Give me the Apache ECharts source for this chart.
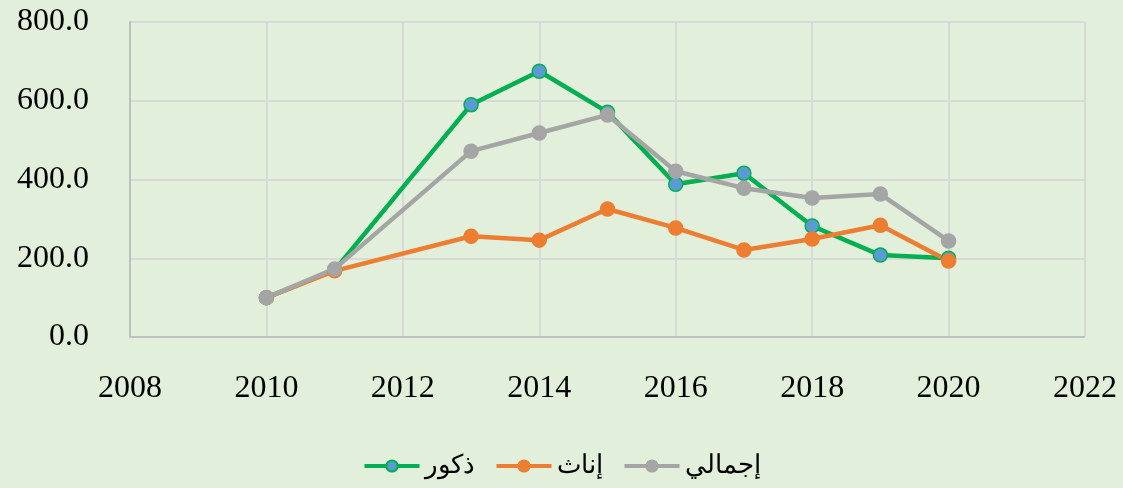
<!DOCTYPE html>
<html><head><meta charset="utf-8">
<script src="https://cdn.jsdelivr.net/npm/echarts@6/dist/echarts.min.js"></script>
<style>html,body{margin:0;padding:0;background:#E2EFDA;}#c{width:1123px;height:488px;}</style>
</head><body><div id="c"></div>
<script>
var years = [2010, 2011, 2013, 2014, 2015, 2016, 2017, 2018, 2019, 2020];
var males = [100, 170, 590, 675, 571, 388, 416, 282, 208, 200];
var females = [100, 168, 256, 246, 325, 277, 221, 249, 284, 193];
var total = [100, 173, 472, 518, 564, 421, 378, 353, 363, 244];
var seriesNames = ['ذكور', 'إناث', 'إجمالي'];
var xTicks = {min: 2008, max: 2022, interval: 2};
var yTicks = {min: 0, max: 800, interval: 200};

function pairs(v){ return years.map(function(y,i){ return [y, v[i]]; }); }
var font = '"Liberation Serif","Times New Roman",serif';
var chart = echarts.init(document.getElementById('c'));
function mk(name, data, color, fill){
  return {
    name: name, type: 'line', data: pairs(data),
    symbol: 'circle', symbolSize: 14,
    lineStyle: {color: color, width: 4.5},
    itemStyle: {color: fill, borderColor: color, borderWidth: 1.5},
    z: 2
  };
}
chart.setOption({
  backgroundColor: '#E2EFDA',
  animation: false,
  grid: {left: 130, right: 38, top: 22, bottom: 151},
  xAxis: {
    type: 'value', min: xTicks.min, max: xTicks.max, interval: xTicks.interval,
    axisLine: {show: false}, axisTick: {show: false},
    splitLine: {show: true, lineStyle: {color: '#D9D9D9', width: 2}},
    axisLabel: {fontFamily: font, fontSize: 32, color: '#000', margin: 36,
      formatter: function(v){ return String(v); }}
  },
  yAxis: {
    type: 'value', min: yTicks.min, max: yTicks.max, interval: yTicks.interval,
    axisLine: {show: true, lineStyle: {color: '#BFBFBF', width: 2}}, axisTick: {show: false},
    splitLine: {show: true, lineStyle: {color: '#D9D9D9', width: 2}},
    axisLabel: {fontFamily: font, fontSize: 32, color: '#000', margin: 41,
      formatter: function(v){ return v.toFixed(1); }}
  },
  legend: {
    bottom: 4, left: 'center', itemWidth: 55, itemHeight: 14, itemGap: 20,
    textStyle: {fontFamily: font, fontSize: 26, color: '#000'},
    lineStyle: {width: 4},
    data: seriesNames
  },
  series: [
    mk(seriesNames[0], males, '#00B050', '#5B9BD5'),
    mk(seriesNames[1], females, '#ED7D31', '#ED7D31'),
    mk(seriesNames[2], total, '#A5A5A5', '#A5A5A5'),
    {type: 'line', data: [[2008, 0], [2022, 0]], symbol: 'none', silent: true,
     lineStyle: {color: '#BFBFBF', width: 2}, z: 1, tooltip: {show: false}}
  ]
});
</script></body></html>
